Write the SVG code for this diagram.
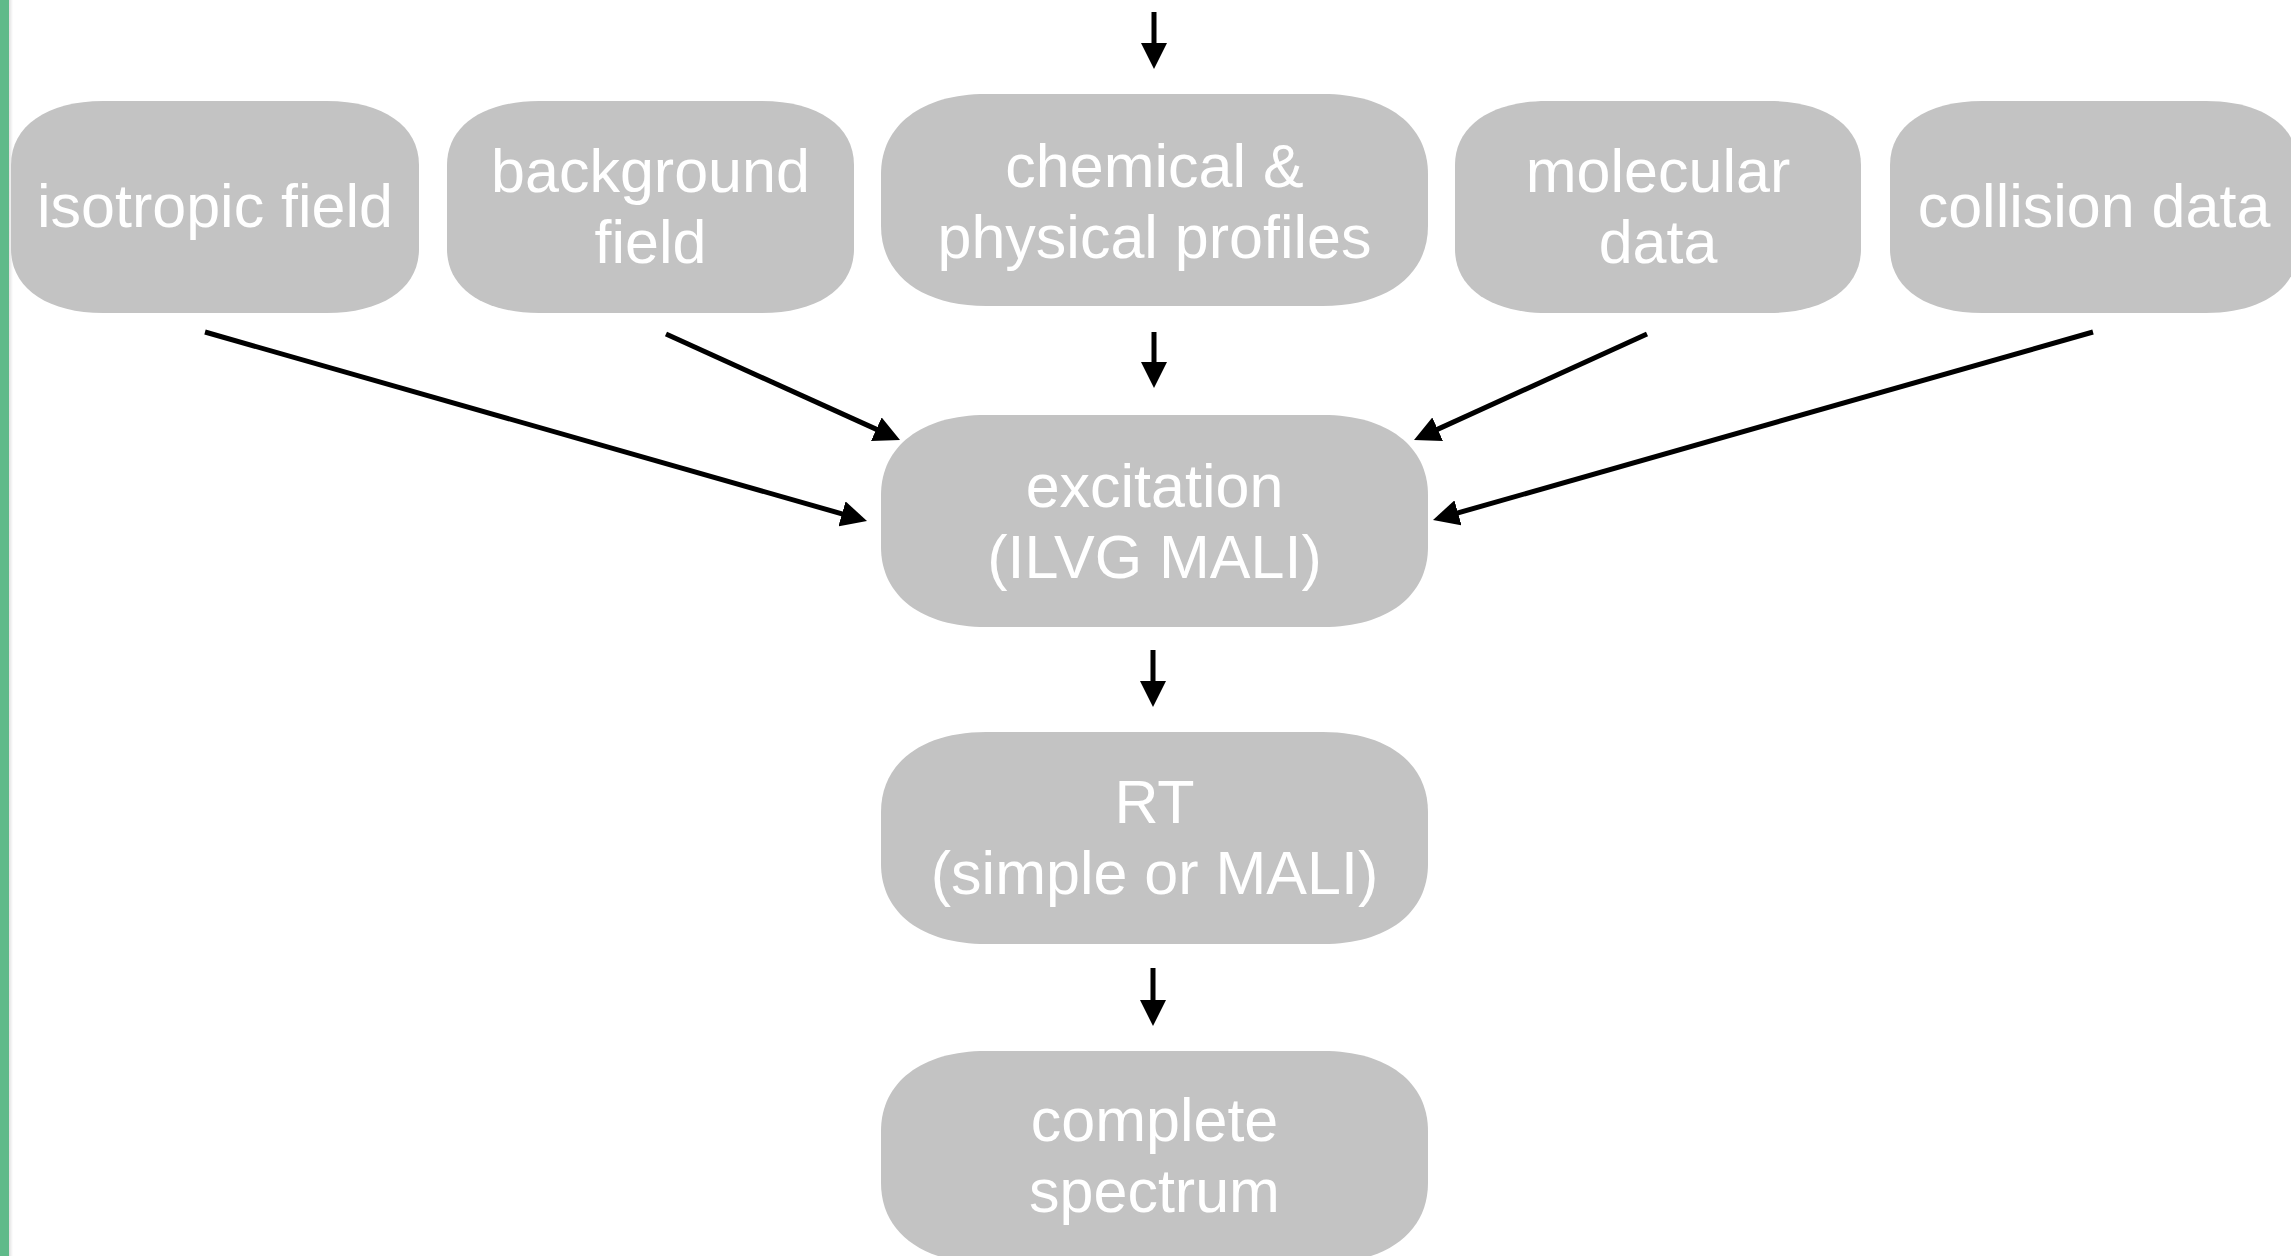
<svg xmlns="http://www.w3.org/2000/svg" width="2291" height="1256" viewBox="0 0 2291 1256">
<defs>
<style>
.node{fill:#c3c3c3}
.lbl{font-family:"Liberation Sans",Arial,Helvetica,sans-serif;font-size:61px;fill:#ffffff;text-anchor:middle}
.conn{stroke:#000;stroke-width:5;fill:none;marker-end:url(#ah)}
</style>
<marker id="ah" markerUnits="userSpaceOnUse" markerWidth="26" markerHeight="26" viewBox="0 0 26 26" refX="10" refY="13" orient="auto">
<path d="M0,0 L26,13 L0,26 z" fill="#000"/>
</marker>
<linearGradient id="sh" x1="0" x2="1" y1="0" y2="0">
<stop offset="0" stop-color="#000" stop-opacity="0.12"/>
<stop offset="1" stop-color="#000" stop-opacity="0"/>
</linearGradient>
</defs>
<rect x="0" y="0" width="2291" height="1256" fill="#ffffff"/>
<rect x="0" y="0" width="9" height="1256" fill="#5fba8a"/>
<rect x="9" y="0" width="4" height="1256" fill="url(#sh)"/>

<g id="n-isotropic">
<path class="node" d="M103,101 H327 C383,101 419,126 419,165 V249 C419,288 383,313 327,313 H103 C47,313 11,288 11,249 V165 C11,126 47,101 103,101 Z"/>
<text class="lbl" x="215" y="227">isotropic field</text>
</g>
<g id="n-background">
<path class="node" d="M539,101 H762 C818,101 854,126 854,165 V249 C854,288 818,313 762,313 H539 C483,313 447,288 447,249 V165 C447,126 483,101 539,101 Z"/>
<text class="lbl" x="650.5" y="192">background</text>
<text class="lbl" x="650.5" y="263">field</text>
</g>
<g id="n-chemical">
<path class="node" d="M986,94 H1323 C1387,94 1428,125 1428,174 V226 C1428,275 1387,306 1323,306 H986 C922,306 881,275 881,226 V174 C881,125 922,94 986,94 Z"/>
<text class="lbl" x="1154.5" y="187">chemical &amp;</text>
<text class="lbl" x="1154.5" y="258">physical profiles</text>
</g>
<g id="n-molecular">
<path class="node" d="M1547,101 H1769 C1825,101 1861,126 1861,165 V249 C1861,288 1825,313 1769,313 H1547 C1491,313 1455,288 1455,249 V165 C1455,126 1491,101 1547,101 Z"/>
<text class="lbl" x="1658" y="192">molecular</text>
<text class="lbl" x="1658" y="263">data</text>
</g>
<g id="n-collision">
<path class="node" d="M1982,101 H2206 C2262,101 2298,126 2298,165 V249 C2298,288 2262,313 2206,313 H1982 C1926,313 1890,288 1890,249 V165 C1890,126 1926,101 1982,101 Z"/>
<text class="lbl" x="2094" y="227">collision data</text>
</g>
<g id="n-excitation">
<path class="node" d="M986,415 H1323 C1387,415 1428,446 1428,495 V547 C1428,596 1387,627 1323,627 H986 C922,627 881,596 881,547 V495 C881,446 922,415 986,415 Z"/>
<text class="lbl" x="1154.5" y="507">excitation</text>
<text class="lbl" x="1154.5" y="578">(ILVG MALI)</text>
</g>
<g id="n-rt">
<path class="node" d="M986,732 H1323 C1387,732 1428,763 1428,812 V864 C1428,913 1387,944 1323,944 H986 C922,944 881,913 881,864 V812 C881,763 922,732 986,732 Z"/>
<text class="lbl" x="1154.5" y="823">RT</text>
<text class="lbl" x="1154.5" y="894">(simple or MALI)</text>
</g>
<g id="n-complete">
<path class="node" d="M986,1051 H1323 C1387,1051 1428,1082 1428,1131 V1183 C1428,1232 1387,1263 1323,1263 H986 C922,1263 881,1232 881,1183 V1131 C881,1082 922,1051 986,1051 Z"/>
<text class="lbl" x="1154.5" y="1141">complete</text>
<text class="lbl" x="1154.5" y="1212">spectrum</text>
</g>

<g id="connectors">
<line class="conn" x1="1154" y1="12" x2="1154" y2="53"/>
<line class="conn" x1="1154" y1="332" x2="1154" y2="372"/>
<line class="conn" x1="1153" y1="650" x2="1153" y2="691"/>
<line class="conn" x1="1153" y1="968" x2="1153" y2="1010"/>
<line class="conn" x1="205" y1="332" x2="851.6" y2="516.6"/>
<line class="conn" x1="666" y1="334" x2="885.4" y2="433.4"/>
<line class="conn" x1="1647" y1="334" x2="1428.6" y2="433.4"/>
<line class="conn" x1="2093" y1="332" x2="1448.4" y2="515.6"/>
</g>
</svg>
